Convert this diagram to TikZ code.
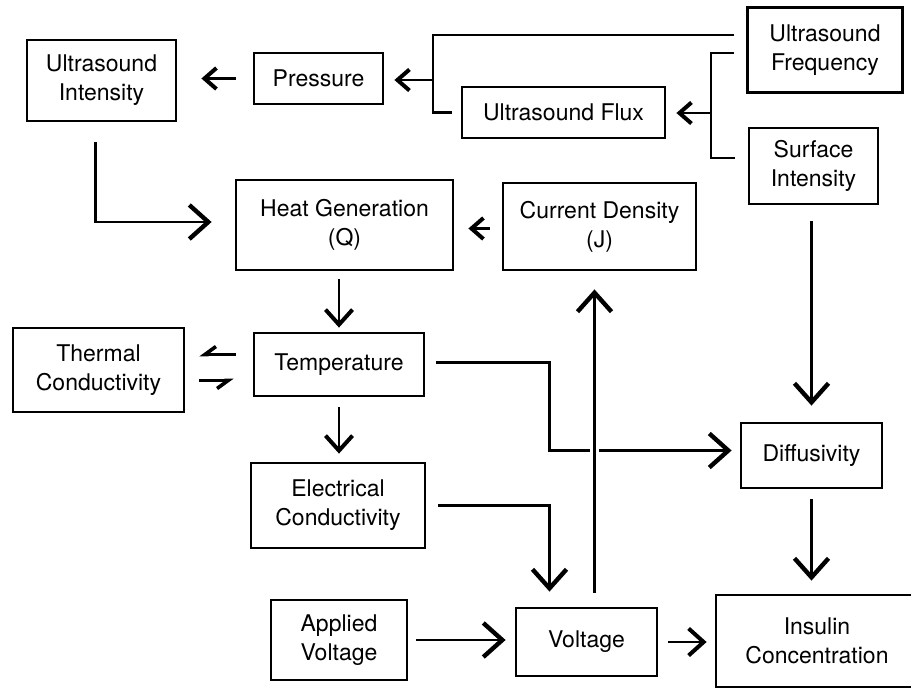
\documentclass[tikz,border=0pt]{standalone}
\usepackage{fontspec}
\setmainfont{TeX Gyre Heros}
\usetikzlibrary{arrows.meta}

\begin{document}
\begin{tikzpicture}[x=1pt, y=-1pt,
    box/.style={draw, line width=2.8pt, inner sep=0pt, align=center,
        font=\fontsize{23}{29}\selectfont},
    wire/.style={line width=2.6pt},
    bigarr/.style={wire, -{Straight Barb[length=19pt, width=34pt, line width=4.4pt]}},
    midarr/.style={wire, -{Straight Barb[length=15pt, width=27pt, line width=4pt]}},
    smallarr/.style={wire, -{Straight Barb[length=12pt, width=21pt, line width=4pt]}},
    harp/.style={wire, -{Straight Barb[harpoon, swap, length=11pt, width=16pt, line width=3.6pt]}}]
    \useasboundingbox (0,0) rectangle (911,688);
    \clip (0,0) rectangle (911,688);

    % top row
    \node[box, minimum width=149pt, minimum height=81pt] at (101.5,80.5) (ui) {Ultrasound\\Intensity};
    \node[box, minimum width=129pt, minimum height=51pt] at (318.5,78.5) (pres) {Pressure};
    \node[box, minimum width=203pt, minimum height=51pt] at (563.5,112.5) (flux) {Ultrasound Flux};
    \node[box, minimum width=155pt, minimum height=85pt] at (825,50) (freq) {Ultrasound\\Frequency};
    \node[box, minimum width=129pt, minimum height=76pt] at (813.5,166) (surf) {Surface\\Intensity};
    % middle
    \node[box, minimum width=217pt, minimum height=90pt] at (344.5,225) (heat) {Heat Generation\\(Q)};
    \node[box, minimum width=193pt, minimum height=87pt] at (599.5,226.5) (cd) {Current Density\\(J)};
    \node[box, minimum width=170pt, minimum height=63pt] at (339,364.5) (temp) {Temperature};
    \node[box, minimum width=171pt, minimum height=84pt] at (98.5,370) (therm) {Thermal\\Conductivity};
    \node[box, minimum width=174pt, minimum height=85pt] at (338,505.5) (elec) {Electrical\\Conductivity};
    \node[box, minimum width=141pt, minimum height=65pt] at (811.5,455.5) (diff) {Diffusivity};
    % bottom row
    \node[box, minimum width=136pt, minimum height=80pt] at (339,640) (appl) {Applied\\Voltage};
    \node[box, minimum width=141pt, minimum height=68pt] at (586.5,642) (volt) {Voltage};
    \node[box, minimum width=202pt, minimum height=92pt] at (817,641) (ins) {Insulin\\Concentration};

    % branch points of the two brackets
    \coordinate (jp) at (433,80);
    \coordinate (jf) at (711,113);

    \draw[wire] ([shift={(-12pt,15pt)}]freq.west) -| (jp) |- ([xshift=-9pt]flux.west);
    \draw[smallarr, shorten >=10pt] (jp) -- (jp -| pres.east);
    \draw[wire] ([shift={(-12pt,-3pt)}]freq.west) -| (jf) |- ([shift={(-13pt,8pt)}]surf.west);
    \draw[smallarr, shorten >=10pt] (jf) -- (jf -| flux.east);
    \draw[smallarr, shorten <=17pt, shorten >=24pt] (pres.west) -- (pres.west -| ui.east);

    \draw[bigarr, shorten <=20pt, shorten >=23pt] ([xshift=-6pt]ui.south) |- ([yshift=3pt]heat.west);
    \draw[smallarr, shorten <=12pt, shorten >=14pt] ([yshift=-2pt]cd.west) -- ([yshift=-2pt]cd.west -| heat.east);
    \draw[midarr, shorten <=8pt, shorten >=4pt] (heat.south -| temp.north) -- (temp.north);

    \draw[harp, shorten <=17pt, shorten >=14pt] ([yshift=10pt]temp.west) -- ([yshift=10pt]temp.west -| therm.east);
    \draw[harp, shorten <=14pt, shorten >=19pt] ([yshift=-16pt]temp.west -| therm.east) -- ([yshift=-16pt]temp.west);

    \draw[midarr, shorten <=10pt, shorten >=8pt] (temp.south) -- (temp.south |- elec.north);
    \draw[bigarr, shorten <=11pt, shorten >=8pt] ([yshift=2pt]temp.east) -- ([shift={(124pt,2pt)}]temp.east) |- ([yshift=5pt]diff.west);
    \draw[bigarr, shorten <=12pt, shorten >=15pt] (elec.east) -| ([xshift=-37pt]volt.north);
    \draw[bigarr, shorten <=14pt, shorten >=18pt, preaction={draw=white, line width=9pt, -}]
        ([xshift=8pt]volt.north) -- ([xshift=8pt]volt.north |- cd.south);

    \draw[bigarr, shorten <=8pt, shorten >=9pt] (appl.east) -- (appl.east -| volt.west);
    \draw[midarr, shorten <=10pt, shorten >=8pt] (volt.east) -- (volt.east -| ins.west);
    \draw[bigarr, shorten <=16pt, shorten >=16pt] (surf.south -| diff.north) -- (diff.north);
    \draw[bigarr, shorten <=10pt, shorten >=13pt] (diff.south) -- (diff.south |- ins.north);
\end{tikzpicture}
\end{document}
